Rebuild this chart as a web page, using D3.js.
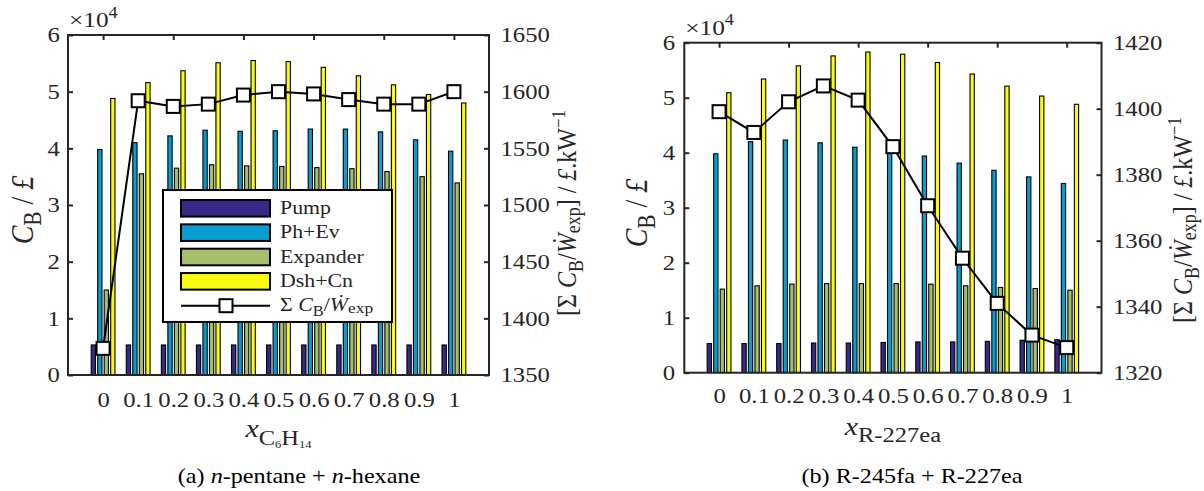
<!DOCTYPE html>
<html><head><meta charset="utf-8">
<script src="https://cdn.jsdelivr.net/npm/d3@7"></script>
<style>body{margin:0;background:#fff}svg{display:block}</style>
</head><body>
<svg id="chart" width="1204" height="491"></svg>
<script>
// ---------------- data ----------------
const categories = [0, 0.1, 0.2, 0.3, 0.4, 0.5, 0.6, 0.7, 0.8, 0.9, 1];
const xTickLabels = ["0", "0.1", "0.2", "0.3", "0.4", "0.5", "0.6", "0.7", "0.8", "0.9", "1"];
const topTickValues = [0, 0.2, 0.4, 0.6, 0.8, 1];
const seriesNames = ["Pump", "Ph+Ev", "Expander", "Dsh+Cn"];
const seriesColors = ["#352a87", "#079dd0", "#a5be6b", "#f9fb0e"];
const leftTicks = [0, 1, 2, 3, 4, 5, 6];

// (a) n-pentane + n-hexane  (bars in units of 1e4 GBP)
const pumpA     = [0.53, 0.53, 0.53, 0.53, 0.53, 0.53, 0.53, 0.53, 0.53, 0.53, 0.53];
const phevA     = [3.98, 4.10, 4.22, 4.32, 4.30, 4.31, 4.34, 4.34, 4.29, 4.15, 3.95];
const expanderA = [1.50, 3.55, 3.65, 3.71, 3.69, 3.68, 3.66, 3.64, 3.59, 3.50, 3.39];
const dshcnA    = [4.88, 5.16, 5.37, 5.51, 5.55, 5.53, 5.43, 5.28, 5.12, 4.95, 4.80];
const totalA    = [1373.5, 1592, 1587, 1589, 1597, 1600, 1598, 1593, 1589, 1589, 1600];
const rightTicksA = [1350, 1400, 1450, 1500, 1550, 1600, 1650];

// (b) R-245fa + R-227ea
const pumpB     = [0.53, 0.53, 0.53, 0.54, 0.54, 0.55, 0.56, 0.56, 0.57, 0.59, 0.60];
const phevB     = [3.98, 4.20, 4.23, 4.18, 4.10, 4.03, 3.94, 3.81, 3.68, 3.56, 3.44];
const expanderB = [1.52, 1.58, 1.61, 1.62, 1.62, 1.62, 1.61, 1.58, 1.55, 1.53, 1.50];
const dshcnB    = [5.09, 5.34, 5.58, 5.76, 5.83, 5.79, 5.64, 5.43, 5.21, 5.03, 4.88];
const totalB    = [1399.1, 1392.8, 1402.1, 1406.9, 1402.6, 1388.5, 1370.6, 1354.7, 1341.0, 1331.4, 1327.6];
const rightTicksB = [1320, 1340, 1360, 1380, 1400, 1420];

// ---------------- drawing ----------------
const FONT = "'Liberation Serif', 'DejaVu Serif', serif";
const SX = 1.15;
const INK = "#262626";
const svg = d3.select("#chart");

function rich(parent, segs, o) {
  const sx = o.sx || SX;
  let tr = `translate(${o.x},${o.y}) scale(${sx},1)`;
  if (o.rot) tr += ` rotate(${o.rot})`;
  const t = parent.append("text")
    .attr("transform", tr)
    .attr("text-anchor", o.anchor || "middle")
    .attr("font-family", FONT)
    .attr("font-size", o.size)
    .attr("fill", o.fill || INK);
  let cur = 0;
  segs.forEach(s => {
    const shift = (s.shift || 0) * o.size;
    const ts = t.append("tspan").text(s.t).attr("dy", shift - cur);
    if (s.scale) ts.attr("font-size", o.size * s.scale);
    if (s.it) ts.attr("font-style", "italic");
    if (s.dx) ts.attr("dx", s.dx);
    cur = shift;
  });
  return t;
}

function panel(cfg) {
  const g = svg.append("g");
  const x = d3.scaleLinear().domain([-0.1, 1.1]).range([cfg.x0, cfg.x1]);
  const yL = d3.scaleLinear().domain([0, 6]).range([cfg.y1, cfg.y0]);
  const yR = d3.scaleLinear().domain(cfg.rDomain).range([cfg.y1, cfg.y0]);
  const slot = 6.5 / ((cfg.x1 - cfg.x0) / 1.2);
  const barW = x(slot * 0.66) - x(0);

  // bars
  const series = [cfg.pump, cfg.phev, cfg.expander, cfg.dshcn];
  series.forEach((vals, si) => {
    g.append("g").selectAll("rect").data(categories.map((c, i) => ({c, v: vals[i]})))
      .join("rect")
      .attr("x", d => x(d.c + (si - 1.5) * slot) - barW / 2)
      .attr("width", barW)
      .attr("y", d => yL(d.v))
      .attr("height", d => yL(0) - yL(d.v))
      .attr("fill", seriesColors[si])
      .attr("stroke", "#000")
      .attr("stroke-width", 1.1);
  });

  // frame
  g.append("rect").attr("x", cfg.x0).attr("y", cfg.y0)
    .attr("width", cfg.x1 - cfg.x0).attr("height", cfg.y1 - cfg.y0)
    .attr("fill", "none").attr("stroke", INK).attr("stroke-width", 2);

  const styleAxis = (sel) => {
    sel.select(".domain").remove();
    sel.selectAll(".tick line").attr("stroke", INK).attr("stroke-width", 2);
    sel.selectAll("text").attr("font-family", FONT).attr("font-size", 21.5).attr("fill", INK)
      .attr("transform", `scale(${SX},1)`);
  };

  // bottom axis labels
  const xb = g.append("g").attr("transform", `translate(0,${cfg.y1})`)
    .call(d3.axisBottom(x).tickValues(categories).tickFormat((d, i) => xTickLabels[i]).tickSize(0).tickPadding(cfg.xPad));
  styleAxis(xb);
  // top ticks
  const xt = g.append("g").attr("transform", `translate(0,${cfg.y0})`)
    .call(d3.axisTop(x).tickValues(topTickValues).tickFormat("").tickSize(-5));
  styleAxis(xt);
  // left axis
  const yl = g.append("g").attr("transform", `translate(${cfg.x0},0)`)
    .call(d3.axisLeft(yL).tickValues(leftTicks).tickFormat(d3.format("d")).tickSize(-5).tickPadding(cfg.lPad));
  styleAxis(yl);
  // right axis
  const yr = g.append("g").attr("transform", `translate(${cfg.x1},0)`)
    .call(d3.axisRight(yR).tickValues(cfg.rTicks).tickFormat(d3.format("d")).tickSize(-5).tickPadding(cfg.rPad));
  styleAxis(yr);

  // line + markers
  const pts = categories.map((c, i) => [x(c), yR(cfg.total[i])]);
  g.append("path").attr("d", d3.line()(pts)).attr("fill", "none")
    .attr("stroke", "#000").attr("stroke-width", 2);
  g.append("g").selectAll("rect").data(pts).join("rect")
    .attr("x", d => d[0] - 6.5).attr("y", d => d[1] - 6.5)
    .attr("width", 13).attr("height", 13)
    .attr("fill", "#fff").attr("stroke", "#000").attr("stroke-width", 2);

  // x10^4
  rich(g, [{t: "×10"}, {t: "4", scale: 0.72, shift: -0.42}], {x: cfg.x0 + 1, y: cfg.y0 - 8, size: 22, anchor: "start"});

  // y labels
  rich(g, [{t: "C", it: true}, {t: "B", scale: 0.75, shift: 0.25}, {t: "  /  "}, {t: "£", it: true}],
    {x: cfg.lLabX, y: cfg.lLabY, size: 28, rot: -90});
  rich(g, [{t: "[Σ "}, {t: "C", it: true}, {t: "B", scale: 0.75, shift: 0.25}, {t: "/"},
           {t: "W\u0307", it: true}, {t: "exp", scale: 0.75, shift: 0.15}, {t: "]  /  "},
           {t: "£", it: true}, {t: ".kW"}, {t: "−1", scale: 0.7, shift: -0.4}],
    {x: cfg.rLabX, y: cfg.rLabY, size: 24, rot: -90});

  // x label
  rich(g, cfg.xLabel, {x: (cfg.x0 + cfg.x1) / 2, y: cfg.xLabY, size: 26});
  // caption
  rich(g, cfg.caption, {x: cfg.capX, y: 483, size: 20.5, sx: 1.18, fill: "#000"});

  return {g, x, yL, yR};
}

const A = panel({
  x0: 68, x1: 489, y0: 35, y1: 375, rDomain: [1350, 1650], rTicks: rightTicksA,
  pump: pumpA, phev: phevA, expander: expanderA, dshcn: dshcnA, total: totalA,
  xPad: 17, lPad: 7, rPad: 10,
  lLabX: 33, lLabY: 210, rLabX: 576, rLabY: 213,
  xLabY: 437,
  xLabel: [{t: "x", it: true}, {t: "C", scale: 0.82, shift: 0.3}, {t: "6", scale: 0.42, shift: 0.42},
           {t: "H", scale: 0.82, shift: 0.3}, {t: "14", scale: 0.42, shift: 0.42}],
  caption: [{t: "(a) "}, {t: "n", it: true}, {t: "-pentane + "}, {t: "n", it: true}, {t: "-hexane"}],
  capX: 299
});

const B = panel({
  x0: 684.3, x1: 1101.5, y0: 42.7, y1: 372.7, rDomain: [1320, 1420], rTicks: rightTicksB,
  pump: pumpB, phev: phevB, expander: expanderB, dshcn: dshcnB, total: totalB,
  xPad: 15.5, lPad: 8, rPad: 10,
  lLabX: 647, lLabY: 213, rLabX: 1192, rLabY: 220,
  xLabY: 435,
  xLabel: [{t: "x", it: true}, {t: "R-227ea", scale: 0.82, shift: 0.26}],
  caption: [{t: "(b) R-245fa + R-227ea"}],
  capX: 912
});

// legend (panel a)
const lg = svg.append("g");
lg.append("rect").attr("x", 163).attr("y", 190).attr("width", 229).attr("height", 132)
  .attr("fill", "#fff").attr("stroke", "#000").attr("stroke-width", 2);
const legendRowY = d3.scalePoint().domain(d3.range(5)).range([208.3, 305.7]);
seriesNames.forEach((name, i) => {
  const cy = legendRowY(i);
  lg.append("rect").attr("x", 181).attr("y", cy - 8.3).attr("width", 89).attr("height", 16.6)
    .attr("fill", seriesColors[i]).attr("stroke", "#000").attr("stroke-width", 2);
  rich(lg, [{t: name}], {x: 280, y: cy + 5.5, size: 19, anchor: "start"});
});
{
  const cy = legendRowY(4);
  lg.append("line").attr("x1", 181).attr("x2", 270).attr("y1", cy).attr("y2", cy)
    .attr("stroke", "#000").attr("stroke-width", 2);
  lg.append("rect").attr("x", 226 - 6.5).attr("y", cy - 6.5).attr("width", 13).attr("height", 13)
    .attr("fill", "#fff").attr("stroke", "#000").attr("stroke-width", 2);
  rich(lg, [{t: "Σ "}, {t: "C", it: true}, {t: "B", scale: 0.75, shift: 0.25}, {t: "/"},
            {t: "W\u0307", it: true}, {t: "exp", scale: 0.8, shift: 0.12}],
    {x: 280, y: cy + 5.5, size: 19, anchor: "start"});
}
</script>
</body></html>
